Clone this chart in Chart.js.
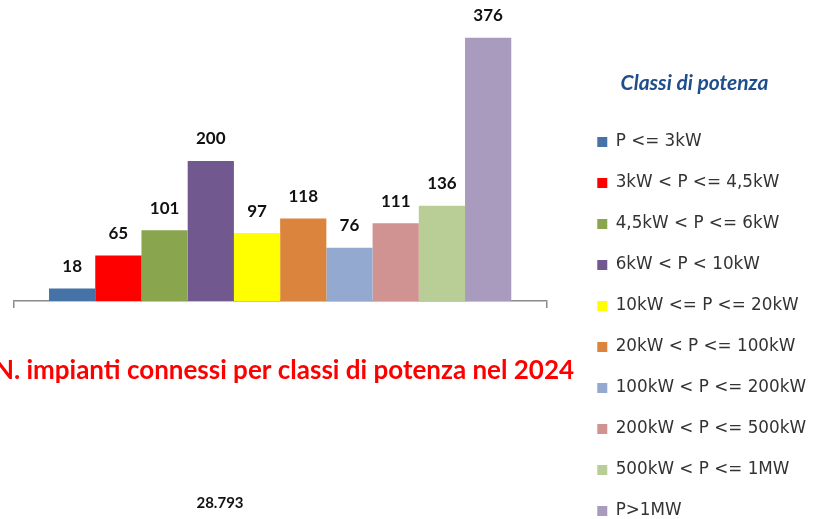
<!DOCTYPE html>
<html>
<head>
<meta charset="utf-8" />
<script src="https://cdn.jsdelivr.net/npm/chart.js@4/dist/chart.umd.min.js"></script>
<style>
body { margin: 0; background: #fff; }
#wrap { width: 813px; height: 519px; position: relative; }
</style>
</head>
<body>
<div id="wrap">
	<canvas id="myChart"></canvas>
</div>

<script>

// data
const classi = ['P <= 3kW', '3kW < P <= 4,5kW', '4,5kW < P <= 6kW', '6kW < P < 10kW',
	'10kW <= P <= 20kW', '20kW < P <= 100kW', '100kW < P <= 200kW',
	'200kW < P <= 500kW', '500kW < P <= 1MW', 'P>1MW'];
const impianti = [18, 65, 101, 200, 97, 118, 76, 111, 136, 376];
const colori = ['#4572a7', '#ff0000', '#89a54e', '#71588f', '#ffff00',
	'#db843d', '#93a9cf', '#d19392', '#b9cd96', '#a99bbd'];
const anno = ['2024'];
const titolo = 'N. impianti connessi per classi di potenza nel 2024';
const totale = '28.793';

const ctx = document.getElementById('myChart');

// numbers above the bars
const etichette = {
	id: 'etichette',
	afterDatasetsDraw: (chart) => {
		const {ctx} = chart;
		ctx.save();
		ctx.fillStyle = '#111';
		ctx.font = "bold 17px Lato";
		ctx.textAlign = 'center';
		ctx.textBaseline = 'middle';
		chart.data.datasets.forEach((ds, i) => {
			const bar = chart.getDatasetMeta(i).data[0];
			ctx.fillText(ds.data[0], bar.x, bar.y - 22);
		});
		ctx.restore();
	}
}

// red title and total under the axis
const testi = {
	id: 'testi',
	afterDraw: (chart) => {
		const {ctx} = chart;
		ctx.save();
		ctx.textAlign = 'center';
		ctx.textBaseline = 'middle';
		ctx.fillStyle = '#ff0000';
		ctx.font = "bold 26px Lato";
		ctx.fillText(titolo, 284, 371);
		ctx.fillStyle = '#111';
		ctx.font = "bold 15px Lato";
		ctx.fillText(totale, 220, 503);
		ctx.restore();
	}
}

new Chart(ctx, {
	type: 'bar',
	data: {
		labels: anno,
		datasets: classi.map((c, i) => ({
			label: c,
			data: [impianti[i]],
			backgroundColor: colori[i],
			borderWidth: 0,
			categoryPercentage: 0.8684,
			barPercentage: 1
		}))
	},
	options: {
		responsive: true,
		maintainAspectRatio: false,
		animation: false,
		layout: {
			padding: {left: 14, right: -3, top: 0, bottom: -40}
		},
		scales: {
			x: {
				ticks: {display: false},
				grid: {
					drawOnChartArea: false,
					drawTicks: true,
					tickLength: 7,
					color: '#8a8a8a',
					lineWidth: 1.5
				},
				border: {color: '#8a8a8a', width: 1.5},
				afterFit: (s) => { s.height = 258; }
			},
			y: {
				position: 'right',
				display: false,
				min: 0,
				max: 430,
				afterFit: (s) => { s.width = 26.8; }
			}
		},
		plugins: {
			tooltip: {enabled: false},
			legend: {
				position: 'right',
				align: 'start',
				title: {
					display: true,
					text: 'Classi di potenza',
					color: '#1f4e8c',
					font: {family: 'Lato', size: 21, weight: 'bold', style: 'italic'},
					padding: {top: 72.5, bottom: 11.7}
				},
				labels: {
					boxWidth: 10,
					boxHeight: 10,
					padding: 24.2,
					color: '#333',
					font: {family: 'DejaVu Sans', size: 16.8}
				}
			}
		}
	},
	plugins: [etichette, testi]
});
</script>
</body>
</html>
